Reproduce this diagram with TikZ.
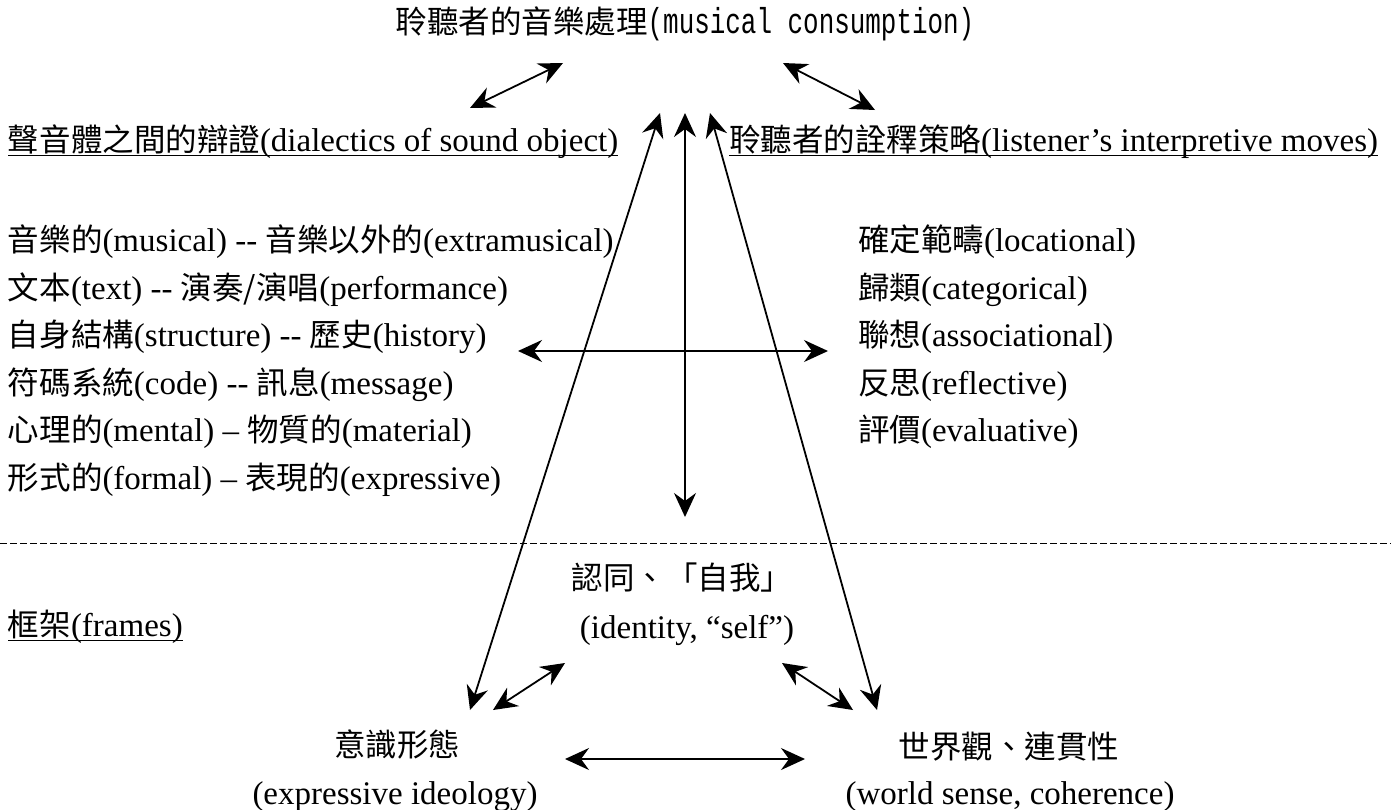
\documentclass[tikz,border=0pt]{standalone}
\usepackage{fontspec}
\usetikzlibrary{arrows.meta}
\newfontfamily\lat{Liberation Serif}
\newfontfamily\zhfont{Noto Sans CJK TC}
\newfontfamily\tmono[FakeStretch=0.72]{Liberation Mono}
\newcommand\zh[1]{{\zhfont\fontsize{31.5}{38}\selectfont #1}}
\begin{document}
\begin{tikzpicture}[x=1pt,y=-1pt,
  every node/.style={inner sep=0pt,outer sep=0pt,
    font=\lat\fontsize{33}{38}\selectfont,text height=27pt,text depth=4pt},
  leftrow/.style={anchor=west},
  conn/.style={line width=1.8pt,{Stealth[length=24pt,width=22pt,inset=8pt]}-{Stealth[length=24pt,width=22pt,inset=8pt]}},
  uline/.style={line width=1.6pt},
  divider/.style={line width=1pt,dash pattern=on 7pt off 3pt}]
\fill[white] (0,0) rectangle (1391,809);
\path[use as bounding box] (0,0) rectangle (1391,809);

% title
\node (title) at (685,22) {\zh{聆聽者的音樂處理}{\tmono\fontsize{36}{38}\selectfont (musical consumption)}};

% headings
\node[leftrow] (hL) at (8,140) {\zh{聲音體之間的辯證}(dialectics of sound object)};
\node[leftrow] (hR) at (729,140) {\zh{聆聽者的詮釋策略}(listener’s interpretive moves)};
\draw[uline] (hL.south west) -- (hL.south east);
\draw[uline] (hR.south west) -- (hR.south east);

% left rows
\node[leftrow] (L1) at (8,240)   {\zh{音樂的}(musical) -- \zh{音樂以外的}(extramusical)};
\node[leftrow] (L2) at (8,287.5) {\zh{文本}(text) -- \zh{演奏/演唱}(performance)};
\node[leftrow] (L3) at (8,335)   {\zh{自身結構}(structure) -- \zh{歷史}(history)};
\node[leftrow] (L4) at (8,382.5) {\zh{符碼系統}(code) -- \zh{訊息}(message)};
\node[leftrow] (L5) at (8,430)   {\zh{心理的}(mental) – \zh{物質的}(material)};
\node[leftrow] (L6) at (8,477.5) {\zh{形式的}(formal) – \zh{表現的}(expressive)};

% right rows
\node[leftrow] (R1) at (858,240)   {\zh{確定範疇}(locational)};
\node[leftrow] (R2) at (858,287.5) {\zh{歸類}(categorical)};
\node[leftrow] (R3) at (858,335)   {\zh{聯想}(associational)};
\node[leftrow] (R4) at (858,382.5) {\zh{反思}(reflective)};
\node[leftrow] (R5) at (858,430)   {\zh{評價}(evaluative)};

% frames
\node[leftrow] (fr) at (8,625) {\zh{框架}(frames)};
\draw[uline] (fr.south west) -- (fr.south east);

% lower nodes
\node (self1) at (682,578) {\zh{認同、「自我」}};
\node (self2) at (687,627) {(identity, “self”)};
\node (ideo1) at (397,745) {\zh{意識形態}};
\node (ideo2) at (395,793) {(expressive ideology)};
\node (world1) at (1009,747) {\zh{世界觀、連貫性}};
\node (world2) at (1010,793) {(world sense, coherence)};

% arrow end points
\coordinate (tl1) at (470,108);
\coordinate (tl2) at (563,63);
\coordinate (tr1) at (783,63);
\coordinate (tr2) at (875,110);
\coordinate (sL1) at (660,113);
\coordinate (sL2) at (470,710);
\coordinate (sR1) at (710,113);
\coordinate (sR2) at (877,710);
\coordinate (v1) at (685,113);
\coordinate (v2) at (685,517);
\coordinate (h1) at (518,351);
\coordinate (h2) at (828,351);
\coordinate (bl1) at (493,710);
\coordinate (bl2) at (565,663);
\coordinate (br1) at (782,663);
\coordinate (br2) at (853,710);
\coordinate (bh1) at (565,759);
\coordinate (bh2) at (805,759);
\coordinate (dl) at (0,543);
\coordinate (dr) at (1391,543);

\draw[conn] (tl1) -- (tl2);
\draw[conn] (tr1) -- (tr2);
\draw[conn] (sL1) -- (sL2);
\draw[conn] (sR1) -- (sR2);
\draw[conn] (v1) -- (v2);
\draw[conn] (h1) -- (h2);
\draw[conn] (bl1) -- (bl2);
\draw[conn] (br1) -- (br2);
\draw[conn] (bh1) -- (bh2);
\draw[divider] (dl) -- (dr);
\end{tikzpicture}
\end{document}
